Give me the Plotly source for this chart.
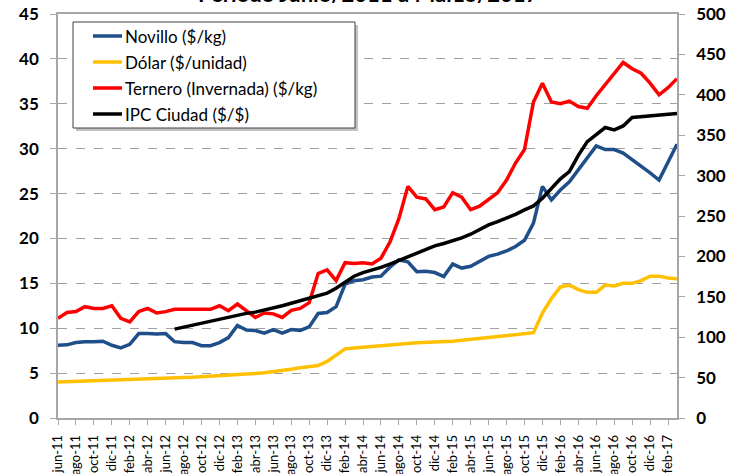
import plotly.graph_objects as go

# ---------------- data ----------------
meses = ["ene", "feb", "mar", "abr", "may", "jun", "jul", "ago", "sep", "oct", "nov", "dic"]
months = []
y, m = 2011, 5
for _ in range(70):
    months.append(f"{meses[m]}-{str(y)[2:]}")
    m += 1
    if m == 12:
        m = 0
        y += 1

novillo = [8.1, 8.15, 8.4, 8.5, 8.5, 8.55, 8.1, 7.8, 8.2, 9.4,
           9.4, 9.35, 9.4, 8.5, 8.4, 8.4, 8.05, 8.05, 8.4, 8.95,
           10.3, 9.8, 9.75, 9.45, 9.85, 9.45, 9.85, 9.75, 10.15, 11.65,
           11.75, 12.4, 14.9, 15.3, 15.4, 15.7, 15.8, 16.8, 17.6, 17.4,
           16.3, 16.35, 16.2, 15.75, 17.15, 16.7, 16.9, 17.4, 18.0, 18.25,
           18.6, 19.1, 19.8, 21.7, 25.8, 24.3, 25.4, 26.3, 27.6, 28.9,
           30.3, 29.9, 29.9, 29.5, 28.8, 28.1, 27.3, 26.5, 28.5, 30.5]

dolar = [4.0, 4.03, 4.06, 4.1, 4.13, 4.16, 4.2, 4.23, 4.26, 4.3,
         4.33, 4.37, 4.4, 4.45, 4.5, 4.55, 4.6, 4.65, 4.7, 4.75,
         4.8, 4.88, 4.97, 5.05, 5.15, 5.28, 5.42, 5.6, 5.75, 5.85,
         6.3, 7.0, 7.7, 7.8, 7.87, 7.95, 8.0, 8.1, 8.2, 8.3,
         8.38, 8.42, 8.45, 8.45, 8.55, 8.65, 8.75, 8.85, 8.95, 9.05,
         9.2, 9.3, 9.4, 9.5, 11.7, 13.3, 14.6, 14.8, 14.3, 14.0,
         14.0, 14.8, 14.7, 15.0, 15.0, 15.3, 15.8, 15.8, 15.6, 15.5]

ternero = [11.1, 11.75, 11.85, 12.4, 12.2, 12.2, 12.5, 11.1, 10.7, 11.85,
           12.2, 11.7, 11.85, 12.1, 12.1, 12.1, 12.1, 12.1, 12.5, 11.95,
           12.7, 12.0, 11.2, 11.7, 11.6, 11.2, 12.0, 12.2, 12.85, 16.1,
           16.5, 15.3, 17.3, 17.2, 17.3, 17.15, 17.8, 19.6, 22.2, 25.8,
           24.6, 24.4, 23.2, 23.5, 25.1, 24.6, 23.2, 23.6, 24.3, 25.1,
           26.5, 28.4, 29.9, 35.2, 37.3, 35.2, 35.0, 35.3, 34.7, 34.5,
           35.9, 37.1, 38.4, 39.6, 38.9, 38.4, 37.3, 36.0, 36.8, 37.8]

ipc = [None] * 13 + [110, 112.5, 115, 117, 119.5, 122.5, 125,
       127.5, 129.5, 131, 133.5, 135.5, 139, 142, 145, 148, 151,
       154.5, 160.5, 168.5, 175.5, 180, 183, 186.5, 190.5, 195, 199.5,
       204, 208.5, 213, 216, 219, 223, 227.5, 233.5, 239, 243,
       247, 252, 257.5, 262.5, 272, 284, 296, 305, 325, 342,
       351, 359.5, 356.5, 361.5, 372, 373, 374, 374.5, 376, 377]

series_names = ["Novillo ($/kg)", "Dólar ($/unidad)", "Ternero (Invernada) ($/kg)", "IPC Ciudad ($/$)"]
series_colors = ["#1F4E88", "#FFC000", "#FF0000", "#000000"]
tick_labels = months[::2]
title_text = "Período Junio/2011 a Marzo/2017"

# ---------------- figure ----------------
W, H = 733, 474
L, R, T, B = 58, 56, 14, 56
PW, PH = W - L - R, H - T - B
FONT = "Lato"

fig = go.Figure()
left_series = [novillo, dolar, ternero]
for vals, name, col in zip(left_series, series_names[:3], series_colors[:3]):
    fig.add_trace(go.Scatter(x=months, y=vals, name=name, mode="lines",
                             line=dict(color=col, width=3.5), showlegend=False))
fig.add_trace(go.Scatter(x=months, y=ipc, name=series_names[3], mode="lines",
                         line=dict(color=series_colors[3], width=3.5),
                         yaxis="y2", showlegend=False))

def px(xp):
    return (xp - L) / PW

def py(yp):
    return (H - B - yp) / PH

# manual legend
shapes = [
    dict(type="rect", xref="paper", yref="paper", x0=px(76), x1=px(358), y0=py(131), y1=py(25),
         fillcolor="rgba(120,120,120,0.45)", line=dict(width=0), layer="above"),
    dict(type="rect", xref="paper", yref="paper", x0=px(73), x1=px(355), y0=py(128), y1=py(22),
         fillcolor="white", line=dict(color="#404040", width=1), layer="above"),
]
annotations = [
    dict(xref="paper", yref="paper", x=0.5, y=py(9), text="<b>" + title_text + "</b>",
         showarrow=False, xanchor="center", yanchor="bottom",
         font=dict(family=FONT, size=22, color="black")),
]
rows = [36, 62, 88, 114]
for rowy, name, col in zip(rows, series_names, series_colors):
    shapes.append(dict(type="line", xref="paper", yref="paper", x0=px(93), x1=px(122),
                       y0=py(rowy), y1=py(rowy), line=dict(color=col, width=3.5), layer="above"))
    annotations.append(dict(xref="paper", yref="paper", x=px(123), y=py(rowy), text=name,
                            showarrow=False, xanchor="left", yanchor="middle",
                            font=dict(family=FONT, size=17, color="black")))

fig.update_layout(
    width=W, height=H,
    margin=dict(l=L, r=R, t=T, b=B, autoexpand=False),
    paper_bgcolor="white", plot_bgcolor="white",
    xaxis=dict(type="category", range=[0, 69], tickvals=tick_labels, ticktext=tick_labels,
               tickangle=-90, tickfont=dict(family=FONT, size=13, color="black"),
               showgrid=False, showline=True, linecolor="#A6A6A6", linewidth=1.5,
               mirror=True, ticks="outside", ticklen=5, tickcolor="#A6A6A6",
               automargin=False, ticklabelstandoff=5),
    yaxis=dict(range=[0, 45], dtick=5, tickfont=dict(family=FONT, size=17, color="black", weight="bold"),
               showgrid=True, gridcolor="#A0A0A0", griddash="dash", gridwidth=1,
               showline=True, linecolor="#A6A6A6", linewidth=1.5,
               ticks="outside", ticklen=6, tickcolor="#A6A6A6", zeroline=False,
               ticklabelstandoff=8, automargin=False),
    yaxis2=dict(range=[0, 500], dtick=50, overlaying="y", side="right",
                tickfont=dict(family=FONT, size=17, color="black", weight="bold"),
                showgrid=False, showline=True, linecolor="#A6A6A6", linewidth=1.5,
                ticks="outside", ticklen=6, tickcolor="#A6A6A6", zeroline=False,
                ticklabelstandoff=8, automargin=False),
    shapes=shapes,
    annotations=annotations,
    showlegend=False,
)

fig.write_html("out.html", config={"displayModeBar": False},
               post_script="document.body.style.margin='0';document.body.style.overflow='hidden';")
